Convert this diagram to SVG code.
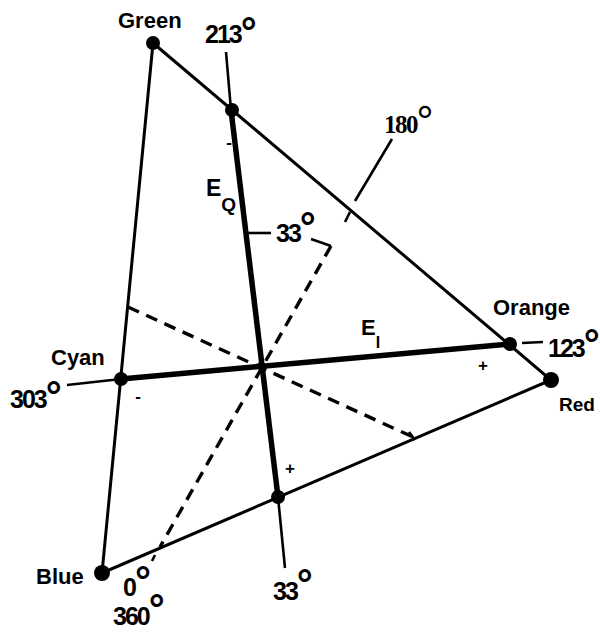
<svg xmlns="http://www.w3.org/2000/svg" width="600" height="635" viewBox="0 0 600 635">
<style>
.ln{stroke:#000;fill:none;stroke-linecap:butt}
.edge{stroke-width:3}
.axis{stroke-width:5.5}
.thin{stroke-width:2.6}
.dash{stroke-width:3.4;stroke-dasharray:12 8}
.lbl{font-family:"Liberation Sans",Arial,sans-serif;font-weight:bold;font-size:22px;fill:#000}
.num{font-family:"Liberation Sans",Arial,sans-serif;font-weight:bold;font-size:25px;letter-spacing:-2px;fill:#000}
.ser{font-family:"Liberation Serif","Times New Roman",serif;font-weight:bold;font-size:25px;letter-spacing:-1.5px;fill:#000}
.deg{font-size:40px;letter-spacing:0}
.sign{font-family:"Liberation Sans",Arial,sans-serif;font-weight:bold;font-size:17px;text-anchor:middle;fill:#000}
.dot{fill:#000}
</style>
<rect width="600" height="635" fill="#fff"/>
<g id="connectors">
  <path class="ln edge" d="M153,43 L551,380 L102,573 Z"/>
  <line class="ln dash" x1="331" y1="246" x2="160" y2="547"/>
  <line class="ln dash" x1="128" y1="307" x2="413" y2="437"/>
  <line class="ln thin" x1="392" y1="139" x2="355" y2="201"/>
  <line class="ln thin" x1="350" y1="212" x2="345" y2="222"/>
  <line class="ln thin" x1="311" y1="239" x2="331" y2="246"/>
  <line class="ln thin" x1="155" y1="555" x2="152" y2="561"/>
  <line class="ln thin" x1="409" y1="432" x2="415" y2="440"/>
  <line class="ln axis" x1="231" y1="110" x2="278" y2="497"/>
  <line class="ln thin" x1="226" y1="52" x2="231" y2="110"/>
  <line class="ln thin" x1="278" y1="497" x2="285" y2="568"/>
  <line class="ln axis" x1="121" y1="379" x2="510" y2="344"/>
  <line class="ln thin" x1="67" y1="385" x2="121" y2="379"/>
  <line class="ln thin" x1="522" y1="343" x2="543" y2="342"/>
  <line class="ln thin" x1="248" y1="233" x2="271" y2="233"/>
</g>
<g id="green"><circle class="dot" cx="153" cy="43" r="7"/><text class="lbl" x="118" y="28">Green</text></g>
<g id="red"><circle class="dot" cx="551" cy="380" r="8"/><text class="lbl" x="559" y="411" style="font-size:19px">Red</text></g>
<g id="blue"><circle class="dot" cx="102" cy="573" r="8"/><text class="lbl" x="36" y="584">Blue</text></g>
<g id="orange"><circle class="dot" cx="510" cy="344" r="7"/><text class="lbl" x="493" y="315">Orange</text></g>
<g id="cyan"><circle class="dot" cx="121" cy="379" r="7"/><text class="lbl" x="51" y="365">Cyan</text></g>
<g id="q-top"><circle class="dot" cx="232" cy="110" r="7"/></g>
<g id="q-bottom"><circle class="dot" cx="278" cy="497" r="7"/></g>
<g id="center"><circle class="dot" cx="261" cy="366" r="4"/></g>
<g id="labels">
  <text class="num" x="205" y="43">213<tspan class="deg" dy="3">°</tspan></text>
  <text class="ser" x="384" y="133">180<tspan class="deg" dy="0">°</tspan></text>
  <text class="num" x="276" y="242">33<tspan class="deg" dy="-1">°</tspan></text>
  <text class="num" x="548" y="357">123<tspan class="deg" dy="1">°</tspan></text>
  <text class="num" x="10" y="408">303<tspan class="deg" dy="2">°</tspan></text>
  <text class="num" x="123" y="596">0<tspan class="deg" dy="-1">°</tspan></text>
  <text class="num" x="113" y="625">360<tspan class="deg" dy="-2">°</tspan></text>
  <text class="num" x="273" y="600">33<tspan class="deg" dy="-2">°</tspan></text>
  <text class="lbl" x="206" y="196" style="font-size:23px">E<tspan style="font-size:19px" dy="15">Q</tspan></text>
  <text class="lbl" x="361" y="335">E<tspan style="font-size:16px" dy="13">I</tspan></text>
  <text class="sign" x="229" y="148">-</text>
  <text class="sign" x="138" y="402">-</text>
  <text class="sign" x="483" y="371">+</text>
  <text class="sign" x="290" y="474">+</text>
</g>
</svg>
